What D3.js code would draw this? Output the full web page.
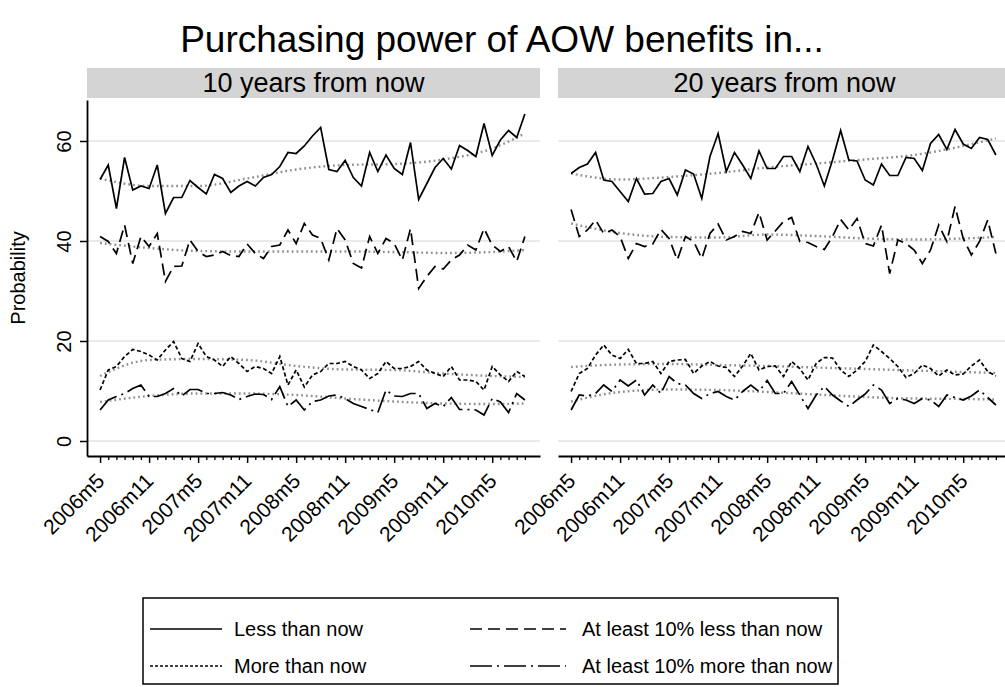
<!DOCTYPE html>
<html>
<head>
<meta charset="utf-8">
<script src="https://cdn.jsdelivr.net/npm/d3@7"></script>
<style>
  body { margin: 0; background: #fff; }
  svg { font-family: "Liberation Sans", Arial, sans-serif; }
</style>
</head>
<body>
<svg width="1005" height="687"></svg>
<script>
// month index 0 = 2006m5 ... 52 = 2010m9
var tickMonths = [0, 6, 12, 18, 24, 30, 36, 42, 48];
var tickLabels = ["2006m5", "2006m11", "2007m5", "2007m11", "2008m5", "2008m11", "2009m5", "2009m11", "2010m5"];
var yTicks = [0, 20, 40, 60];
var panels = ["10 years from now", "20 years from now"];
var seriesNames = ["Less than now", "At least 10% less than now", "More than now", "At least 10% more than now"];

// 10 years from now
var less10y = [52.3, 55.2, 46.5, 56.7, 50.2, 51.0, 50.5, 55.2, 45.5, 48.7, 48.7, 52.1, 50.7, 49.4, 53.3, 52.5, 49.7, 51.0, 51.9, 51.0, 52.7, 53.3, 54.9, 57.7, 57.5, 59.0, 61.0, 62.7, 54.3, 53.9, 56.1, 52.7, 51.0, 57.7, 53.9, 57.2, 54.5, 53.3, 59.7, 48.3, 51.5, 54.7, 56.5, 54.4, 59.1, 58.1, 56.9, 63.5, 57.1, 60.2, 62.1, 60.7, 65.4];
var lessBy10pct10y = [40.9, 39.9, 37.5, 43.2, 35.5, 40.9, 38.9, 41.5, 31.9, 34.9, 35.0, 40.2, 37.9, 36.9, 37.2, 37.9, 37.1, 36.9, 39.4, 37.5, 36.5, 38.9, 39.2, 42.2, 39.5, 43.5, 41.2, 40.5, 36.2, 42.5, 40.2, 35.5, 34.6, 40.9, 37.5, 40.5, 39.5, 36.2, 42.5, 30.5, 32.9, 34.9, 34.4, 36.2, 37.2, 39.2, 38.2, 42.5, 39.2, 37.9, 38.9, 35.9, 40.9];
var more10y = [10.2, 14.2, 14.9, 16.9, 18.3, 17.9, 17.2, 16.2, 18.2, 19.9, 16.5, 15.9, 19.5, 16.9, 16.2, 14.9, 16.9, 15.5, 13.9, 14.9, 14.5, 13.5, 16.9, 11.2, 14.2, 10.8, 13.2, 13.9, 15.5, 15.5, 15.9, 14.9, 14.2, 12.5, 13.5, 15.9, 14.5, 14.5, 14.9, 15.9, 14.2, 13.5, 12.9, 14.9, 12.2, 12.2, 11.9, 10.2, 14.9, 13.2, 11.9, 13.9, 12.9];
var moreBy10pct10y = [6.2, 8.2, 8.9, 9.5, 10.5, 11.2, 8.9, 8.9, 9.5, 10.5, 9.0, 10.3, 10.3, 9.5, 9.5, 9.7, 9.2, 8.3, 8.9, 9.4, 9.3, 8.3, 10.9, 6.9, 8.2, 6.2, 7.9, 8.2, 9.0, 9.2, 8.5, 7.5, 6.9, 6.3, 5.7, 10.2, 9.0, 8.9, 9.5, 9.5, 6.5, 7.5, 6.9, 8.7, 6.3, 6.3, 6.2, 5.2, 8.5, 7.8, 5.7, 9.5, 8.2];

// 20 years from now
var less20y = [53.5, 54.7, 55.4, 57.7, 52.2, 51.9, 49.9, 47.9, 52.5, 49.4, 49.5, 51.9, 52.5, 49.2, 54.2, 53.4, 48.5, 56.9, 61.5, 53.9, 57.7, 55.2, 52.5, 58.0, 54.5, 54.5, 56.9, 56.9, 53.9, 58.9, 55.4, 51.0, 56.2, 62.1, 56.2, 56.0, 52.2, 51.2, 55.4, 53.1, 53.1, 56.7, 56.5, 54.1, 59.5, 61.3, 58.3, 62.3, 59.4, 58.5, 60.7, 60.3, 57.2];
var lessBy10pct20y = [46.3, 40.9, 42.2, 44.2, 41.5, 42.2, 40.9, 36.5, 39.5, 38.9, 39.4, 42.3, 40.5, 36.2, 40.9, 39.9, 36.5, 41.5, 43.4, 40.2, 40.9, 41.9, 41.5, 45.7, 40.2, 42.0, 43.9, 44.7, 39.9, 39.7, 38.9, 38.3, 40.9, 44.3, 42.2, 44.5, 39.5, 39.0, 43.2, 33.5, 40.2, 39.5, 38.2, 35.5, 38.2, 43.2, 39.9, 46.9, 40.5, 37.2, 39.9, 44.2, 37.5];
var more20y = [9.9, 13.5, 14.5, 17.2, 19.2, 17.2, 16.5, 18.3, 15.5, 15.5, 15.9, 13.5, 15.9, 16.2, 16.3, 13.5, 15.0, 15.9, 15.0, 14.7, 12.9, 15.0, 17.5, 14.2, 14.9, 15.0, 12.9, 15.9, 14.5, 12.2, 15.5, 16.7, 16.6, 14.2, 12.9, 14.2, 15.9, 19.2, 17.9, 16.5, 14.9, 12.7, 13.5, 15.2, 14.5, 13.0, 14.2, 13.2, 13.4, 15.0, 16.2, 13.9, 13.0];
var moreBy10pct20y = [6.2, 9.2, 9.0, 9.5, 11.2, 9.9, 12.2, 11.0, 12.2, 9.2, 11.2, 9.5, 12.9, 11.5, 11.2, 9.5, 8.5, 9.5, 9.9, 8.9, 8.2, 9.9, 11.2, 9.9, 12.1, 9.5, 9.5, 11.9, 9.2, 6.5, 9.2, 10.9, 9.2, 8.0, 6.9, 8.2, 9.4, 11.2, 10.2, 7.5, 8.5, 8.2, 7.5, 8.5, 8.2, 6.9, 9.2, 8.7, 8.2, 9.0, 10.2, 8.7, 7.2];

// smoothed trends, read at these months
var trendMonths = [0, 6, 12, 18, 24, 30, 36, 42, 48, 52];
var trendLess10y = [52.5, 51.0, 51.0, 52.5, 54.3, 55.2, 55.4, 56.3, 58.5, 61.5];
var trendLessBy10pct10y = [39.6, 38.6, 38.0, 37.9, 37.9, 37.9, 37.8, 37.6, 37.8, 38.2];
var trendMore10y = [13.0, 16.2, 16.4, 16.2, 15.0, 14.3, 14.2, 13.5, 13.0, 12.8];
var trendMoreBy10pct10y = [7.8, 9.0, 9.5, 9.5, 9.2, 8.5, 7.9, 7.5, 7.4, 7.5];
var trendLess20y = [53.5, 52.3, 52.8, 53.6, 54.7, 55.5, 56.3, 57.2, 59.0, 60.5];
var trendLessBy10pct20y = [43.5, 41.6, 40.8, 40.7, 41.3, 41.0, 40.5, 40.3, 40.5, 40.8];
var trendMore20y = [14.8, 15.3, 15.4, 15.2, 15.0, 14.7, 14.4, 14.1, 13.8, 13.6];
var trendMoreBy10pct20y = [7.9, 9.8, 10.3, 10.2, 9.8, 9.3, 8.8, 8.5, 8.4, 8.3];

var dashes = [null, "12,6", "4,2.5", "22,5,2,5"];

var svg = d3.select("svg");
var panelX = [87, 558], panelW = 453;
var plotTop = 100, plotBottom = 456;

var y = d3.scaleLinear().domain([-3, 68.2]).range([plotBottom, plotTop]);

// title
svg.append("text")
    .attr("x", 502).attr("y", 52)
    .attr("text-anchor", "middle")
    .attr("font-size", 37)
    .text("Purchasing power of AOW benefits in...");

var allSeries = [
    [less10y, lessBy10pct10y, more10y, moreBy10pct10y],
    [less20y, lessBy10pct20y, more20y, moreBy10pct20y]
];
var allTrends = [
    [trendLess10y, trendLessBy10pct10y, trendMore10y, trendMoreBy10pct10y],
    [trendLess20y, trendLessBy10pct20y, trendMore20y, trendMoreBy10pct20y]
];

panels.forEach(function (name, p) {
    var x0 = panelX[p];
    var x = d3.scaleLinear().domain([-1.6, 53.85]).range([x0, x0 + panelW]);
    var g = svg.append("g");

    // strip
    g.append("rect")
        .attr("x", x0).attr("y", 68)
        .attr("width", panelW).attr("height", 30)
        .attr("fill", "#d4d4d4");
    g.append("text")
        .attr("x", x0 + panelW / 2).attr("y", 92)
        .attr("text-anchor", "middle")
        .attr("font-size", 27)
        .text(name);

    // grid
    g.selectAll(".grid")
        .data(yTicks)
        .enter().append("line")
        .attr("x1", x0).attr("x2", x0 + panelW)
        .attr("y1", d => y(d)).attr("y2", d => y(d))
        .attr("stroke", "#e3e3e3")
        .attr("stroke-width", 1.5);

    // trends
    var trendLine = d3.line()
        .x((d, i) => x(trendMonths[i]))
        .y(d => y(d))
        .curve(d3.curveMonotoneX);
    allTrends[p].forEach(function (t) {
        g.append("path")
            .attr("d", trendLine(t))
            .attr("fill", "none")
            .attr("stroke", "#909090")
            .attr("stroke-width", 2.4)
            .attr("stroke-dasharray", "1.8,3");
    });

    // series
    var line = d3.line()
        .x((d, i) => x(i))
        .y(d => y(d));
    allSeries[p].forEach(function (s, k) {
        g.append("path")
            .attr("d", line(s))
            .attr("fill", "none")
            .attr("stroke", "#000")
            .attr("stroke-width", 1.7)
            .attr("stroke-dasharray", dashes[k]);
    });

    // x axis, minor ticks
    var minor = d3.range(1, 53).filter(m => m % 6 != 0);
    var xMinor = g.append("g")
        .attr("transform", "translate(0," + plotBottom + ")")
        .call(d3.axisBottom(x).tickValues(minor).tickSize(4).tickSizeOuter(0).tickFormat(""));
    xMinor.select(".domain").remove();
    xMinor.selectAll("line").attr("stroke-width", 1.3);

    var xAxis = g.append("g")
        .attr("transform", "translate(0," + plotBottom + ")")
        .call(d3.axisBottom(x).tickValues(tickMonths).tickSize(7).tickSizeOuter(0)
            .tickFormat((d, i) => tickLabels[i]));
    xAxis.select(".domain").attr("stroke-width", 1.8);
    xAxis.selectAll("line").attr("stroke-width", 1.5);
    xAxis.selectAll("text")
        .attr("font-size", 21)
        .attr("font-family", "Liberation Sans, Arial, sans-serif")
        .attr("fill", "#000")
        .attr("x", 0).attr("y", 0).attr("dy", "0.35em")
        .attr("text-anchor", "end")
        .attr("transform", "translate(0,21) rotate(-45)");

    if (p == 0) {
        var yAxis = g.append("g")
            .attr("transform", "translate(" + x0 + ",0)")
            .call(d3.axisLeft(y).tickValues(yTicks).tickSize(7).tickSizeOuter(0));
        yAxis.select(".domain").attr("stroke-width", 1.8);
        yAxis.selectAll("line").attr("stroke-width", 1.5);
        yAxis.selectAll("text")
            .attr("font-size", 20)
            .attr("font-family", "Liberation Sans, Arial, sans-serif")
            .attr("fill", "#000")
            .attr("x", 0).attr("dy", 0)
            .attr("text-anchor", "middle")
            .attr("transform", "translate(-16,0) rotate(-90)");
    }
});

// y title
svg.append("text")
    .attr("transform", "translate(25,278) rotate(-90)")
    .attr("text-anchor", "middle")
    .attr("font-size", 20)
    .text("Probability");

// legend
var lg = svg.append("g");
lg.append("rect")
    .attr("x", 143).attr("y", 598)
    .attr("width", 695).attr("height", 86)
    .attr("fill", "none")
    .attr("stroke", "#000")
    .attr("stroke-width", 1.5);

var legendPos = [
    {lx: 150, lw: 72, tx: 234, cy: 629},
    {lx: 470, lw: 96, tx: 582, cy: 629},
    {lx: 150, lw: 72, tx: 234, cy: 666},
    {lx: 470, lw: 96, tx: 582, cy: 666}
];
seriesNames.forEach(function (n, k) {
    var pos = legendPos[k];
    lg.append("line")
        .attr("x1", pos.lx).attr("x2", pos.lx + pos.lw)
        .attr("y1", pos.cy).attr("y2", pos.cy)
        .attr("stroke", "#000")
        .attr("stroke-width", 1.5)
        .attr("stroke-dasharray", k == 2 ? "3,2" : dashes[k]);
    lg.append("text")
        .attr("x", pos.tx).attr("y", pos.cy)
        .attr("dy", "0.35em")
        .attr("font-size", 20)
        .text(n);
});
</script>
</body>
</html>
